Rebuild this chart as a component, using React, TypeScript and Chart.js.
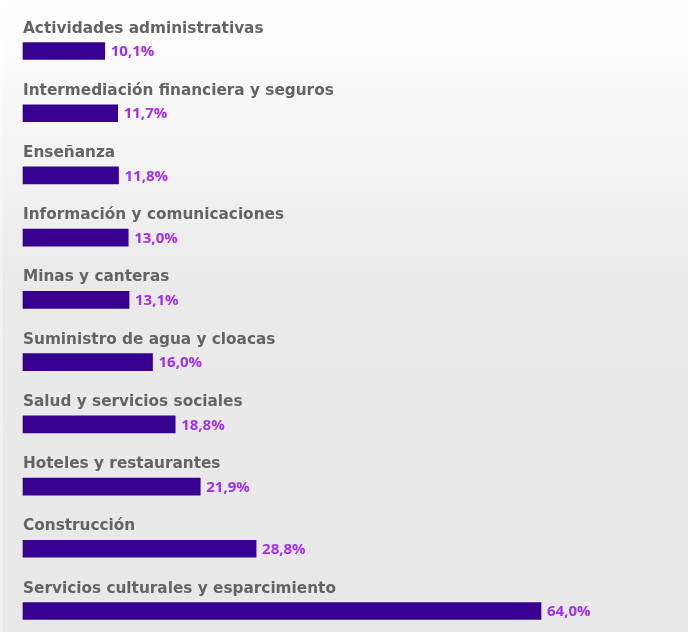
import React, { useEffect, useRef } from "react";
import { Chart, registerables } from "chart.js";

Chart.register(...registerables);

const categories = [
  "Actividades administrativas",
  "Intermediación financiera y seguros",
  "Enseñanza",
  "Información y comunicaciones",
  "Minas y canteras",
  "Suministro de agua y cloacas",
  "Salud y servicios sociales",
  "Hoteles y restaurantes",
  "Construcción",
  "Servicios culturales y esparcimiento",
];

const values = [10.1, 11.7, 11.8, 13.0, 13.1, 16.0, 18.8, 21.9, 28.8, 64.0];

const valueLabels = ["10,1%", "11,7%", "11,8%", "13,0%", "13,1%", "16,0%", "18,8%", "21,9%", "28,8%", "64,0%"];

const BAR_COLOR = "#38008f";
const VALUE_COLOR = "#a02ff0";
const LABEL_COLOR = "#646464";

const backgroundPlugin = {
  id: "bgGradient",
  beforeDraw(chart: any) {
    const { ctx, width, height } = chart;
    ctx.save();
    const g = ctx.createLinearGradient(0, 0, 0, height);
    g.addColorStop(0, "#ffffff");
    g.addColorStop(0.45, "#eaeaea");
    g.addColorStop(1, "#e8e8e8");
    ctx.fillStyle = g;
    ctx.fillRect(0, 0, width, height);
    const g2 = ctx.createLinearGradient(0, 0, 0, height);
    g2.addColorStop(0, "#ffffff");
    g2.addColorStop(0.45, "#f1f1f1");
    g2.addColorStop(1, "#f0f0f0");
    ctx.fillStyle = g2;
    ctx.fillRect(0, 0, 3, height);
    ctx.restore();
  },
};

const labelsPlugin = {
  id: "barLabels",
  afterDatasetsDraw(chart: any) {
    const { ctx } = chart;
    const meta = chart.getDatasetMeta(0);
    ctx.save();
    meta.data.forEach((bar: any, i: number) => {
      const half = bar.height / 2;
      ctx.font = "bold 15.3px 'DejaVu Sans'";
      ctx.fillStyle = LABEL_COLOR;
      ctx.textAlign = "left";
      ctx.textBaseline = "alphabetic";
      ctx.fillText(categories[i], bar.base, bar.y - half - 10);
      ctx.font = "bold 15px 'Open Sans'";
      ctx.fillStyle = VALUE_COLOR;
      ctx.textBaseline = "middle";
      ctx.fillText(valueLabels[i], bar.x + 6, bar.y + 1);
    });
    ctx.restore();
  },
};

export default function App() {
  const ref = useRef<HTMLCanvasElement>(null);
  useEffect(() => {
    if (!ref.current) return;
    const chart = new Chart(ref.current, {
      type: "bar",
      data: {
        labels: categories,
        datasets: [
          {
            data: values,
            backgroundColor: BAR_COLOR,
            borderWidth: 0,
            barThickness: 17,
            clip: false as any,
          },
        ],
      },
      options: {
        indexAxis: "y",
        animation: false,
        responsive: false,
        layout: { padding: { left: 23, right: 17.5, top: 51, bottom: 21 } },
        plugins: {
          legend: { display: false },
          tooltip: { enabled: false },
          title: { display: false },
        },
        scales: {
          x: { display: false, min: 0, max: 80 },
          y: { display: false, offset: false, grid: { display: false } },
        },
      },
      plugins: [backgroundPlugin, labelsPlugin],
    });
    return () => chart.destroy();
  }, []);
  return (
    <div style={{ position: "absolute", left: 0, top: 0, width: 688, height: 632 }}>
      <canvas ref={ref} width={688} height={632} style={{ display: "block", width: 688, height: 632 }} />
    </div>
  );
}
